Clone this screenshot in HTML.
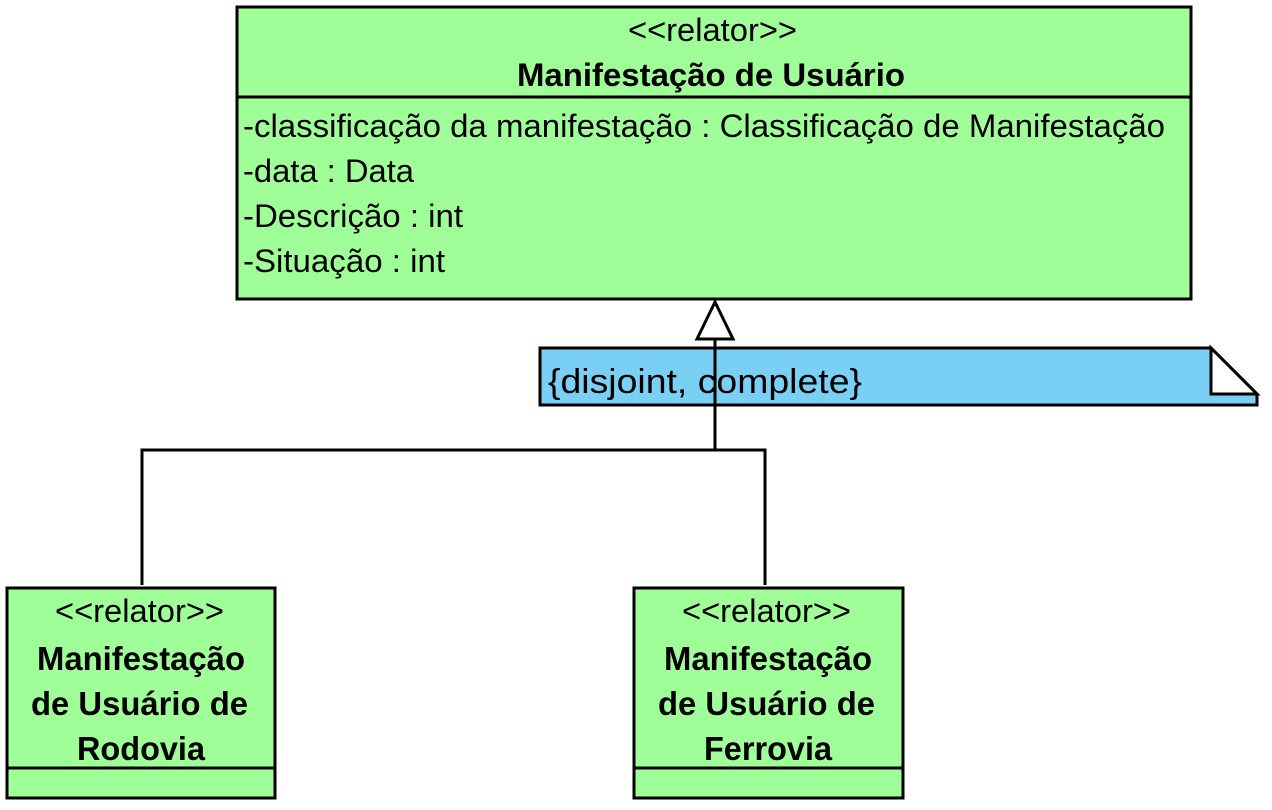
<!DOCTYPE html>
<html><head><meta charset="utf-8"><style>
html,body{margin:0;padding:0;background:#fff;width:1272px;height:810px;overflow:hidden}
svg text{font-family:"Liberation Sans",Arial,sans-serif;fill:#000}
</style></head><body>
<svg width="1272" height="810" viewBox="0 0 1272 810" xmlns="http://www.w3.org/2000/svg">
<g stroke="#000" stroke-width="3">
<rect x="237" y="7" width="954" height="292" fill="#9ffe97"/>
<line x1="237" y1="97" x2="1191" y2="97"/>
<polyline points="142,585 142,450 765,450 765,585" fill="none"/>
<rect x="7" y="588" width="268" height="210" fill="#9ffe97"/>
<line x1="7" y1="768" x2="275" y2="768"/>
<rect x="634" y="588" width="269" height="210" fill="#9ffe97"/>
<line x1="634" y1="768" x2="903" y2="768"/>
<polygon points="540,348 1211,348 1257,394 1257,405 540,405" fill="#7acff4"/>
<polygon points="1211,348 1257,394 1211,394" fill="#fff"/>
<line x1="715" y1="339" x2="715" y2="450"/>
<polygon points="715,302 733,339 697,339" fill="#fff"/>
</g>
<text x="628" y="41" font-size="32" textLength="169" lengthAdjust="spacingAndGlyphs">&lt;&lt;relator&gt;&gt;</text>
<text x="517" y="86" font-size="32" font-weight="bold" textLength="388" lengthAdjust="spacingAndGlyphs">Manifestação de Usuário</text>
<text x="243" y="137" font-size="32" textLength="922" lengthAdjust="spacingAndGlyphs">-classificação da manifestação : Classificação de Manifestação</text>
<text x="243" y="182" font-size="32" textLength="171" lengthAdjust="spacingAndGlyphs">-data : Data</text>
<text x="243" y="227" font-size="32" textLength="220" lengthAdjust="spacingAndGlyphs">-Descrição : int</text>
<text x="243" y="272" font-size="32" textLength="202" lengthAdjust="spacingAndGlyphs">-Situação : int</text>
<text x="548" y="393" font-size="34" textLength="314" lengthAdjust="spacingAndGlyphs">{disjoint, complete}</text>
<text x="55" y="622" font-size="32" textLength="169" lengthAdjust="spacingAndGlyphs">&lt;&lt;relator&gt;&gt;</text>
<text x="37" y="670" font-size="33" font-weight="bold" textLength="208" lengthAdjust="spacingAndGlyphs">Manifestação</text>
<text x="31" y="715" font-size="33" font-weight="bold" textLength="217" lengthAdjust="spacingAndGlyphs">de Usuário de</text>
<text x="77" y="760" font-size="33" font-weight="bold" textLength="128" lengthAdjust="spacingAndGlyphs">Rodovia</text>
<text x="682" y="622" font-size="32" textLength="169" lengthAdjust="spacingAndGlyphs">&lt;&lt;relator&gt;&gt;</text>
<text x="664" y="670" font-size="33" font-weight="bold" textLength="208" lengthAdjust="spacingAndGlyphs">Manifestação</text>
<text x="658" y="715" font-size="33" font-weight="bold" textLength="217" lengthAdjust="spacingAndGlyphs">de Usuário de</text>
<text x="704" y="760" font-size="33" font-weight="bold" textLength="128" lengthAdjust="spacingAndGlyphs">Ferrovia</text>
</svg>
</body></html>
